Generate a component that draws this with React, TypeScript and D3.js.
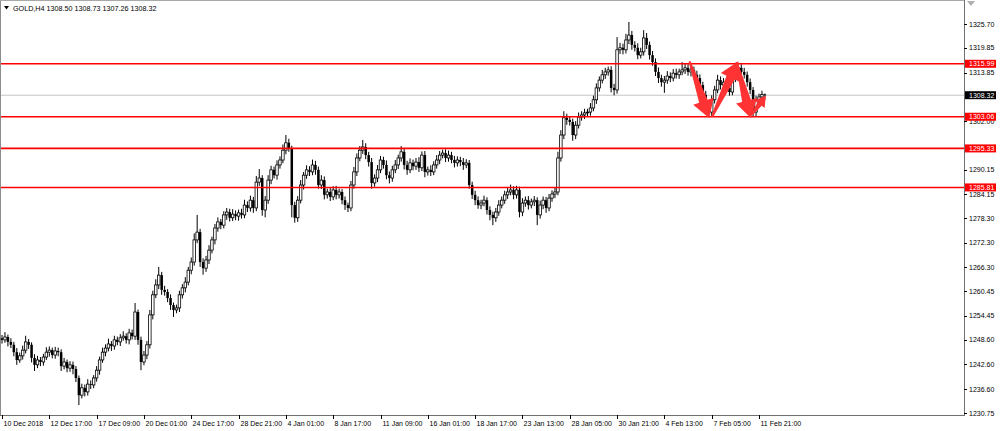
import React, { useEffect, useRef } from "react";
import * as d3 from "d3";

/* DATA (GOLD H4) */
const symbolTitle = "GOLD,H4";
const lastQuote = [1308.5, 1308.73, 1307.26, 1308.32]; // O H L C of the last bar

const firstOpen = 1249.0;
const closes = [
  1248.6, 1249.3, 1248.1, 1247.4, 1245.6, 1243.7, 1244.7, 1246.1, 1248.1, 1247.4,
  1244.2, 1242.5, 1243.7, 1243.2, 1244.4, 1245.6, 1246.1, 1244.9, 1245.9, 1245.6,
  1242.2, 1243.2, 1241.7, 1242.5, 1241.5, 1239.3, 1235.1, 1236.9, 1235.9, 1237.8,
  1237.6, 1239.3, 1241.2, 1243.7, 1245.6, 1246.6, 1247.6, 1247.1, 1248.6, 1248.1,
  1249.1, 1249.5, 1248.6, 1250.3, 1249.5, 1255.4, 1248.6, 1243.2, 1244.9, 1247.4,
  1254.7, 1259.6, 1262.0, 1264.4, 1260.8, 1260.3, 1258.8, 1257.1, 1255.9, 1256.4,
  1259.6, 1261.3, 1262.7, 1265.6, 1267.6, 1273.0, 1274.9, 1267.6, 1266.1, 1268.1,
  1270.5, 1273.0, 1275.9, 1277.4, 1276.6, 1279.1, 1279.8, 1278.4, 1279.3, 1278.8,
  1279.6, 1279.1, 1281.5, 1280.8, 1282.7, 1280.8, 1287.1, 1288.1, 1280.3, 1282.7,
  1287.6, 1290.1, 1288.8, 1291.3, 1292.5, 1294.9, 1296.7, 1295.4, 1281.5, 1278.4,
  1282.7, 1286.4, 1288.8, 1290.1, 1289.6, 1291.3, 1290.1, 1286.4, 1287.6, 1284.0,
  1284.7, 1283.5, 1285.2, 1284.0, 1284.7, 1282.7, 1281.5, 1280.8, 1286.4, 1289.6,
  1293.0, 1294.9, 1295.7, 1293.7, 1292.0, 1286.9, 1288.1, 1290.1, 1292.5, 1291.3,
  1288.8, 1288.1, 1290.1, 1291.3, 1293.0, 1294.5, 1291.3, 1290.1, 1291.8, 1291.0,
  1292.0, 1290.6, 1293.7, 1289.6, 1290.1, 1289.6, 1291.3, 1292.5, 1293.7, 1294.2,
  1293.0, 1293.7, 1292.5, 1291.8, 1292.5, 1292.0, 1291.3, 1291.8, 1286.4, 1284.0,
  1282.7, 1281.5, 1282.0, 1282.7, 1280.3, 1279.1, 1278.4, 1279.8, 1281.5, 1282.7,
  1284.0, 1284.7, 1285.2, 1284.0, 1285.2, 1279.8, 1282.0, 1282.7, 1281.5, 1282.3,
  1282.7, 1279.1, 1281.5, 1282.7, 1280.8, 1283.2, 1284.2, 1284.7, 1293.0, 1298.6,
  1302.8, 1302.3, 1301.8, 1298.6, 1301.0, 1303.0, 1303.5, 1304.0, 1304.2, 1305.2,
  1307.2, 1310.1, 1312.0, 1313.3, 1314.0, 1314.5, 1310.1, 1309.6, 1319.4, 1319.9,
  1319.4, 1321.8, 1323.0, 1320.6, 1319.9, 1318.1, 1318.9, 1322.3, 1320.6, 1318.1,
  1316.4, 1314.0, 1312.5, 1311.5, 1312.0, 1313.0, 1312.5, 1313.7, 1313.3, 1314.0,
  1314.5, 1315.0, 1314.0, 1314.5, 1313.3, 1312.5, 1310.8, 1308.4, 1305.9, 1304.2,
  1307.2, 1309.6, 1312.0, 1310.8, 1311.5, 1310.1, 1309.1, 1312.5, 1314.5, 1315.0,
  1314.0, 1313.3, 1311.5, 1309.6, 1304.2, 1307.2, 1307.9, 1308.5, 1308.32,
];
// wick lengths above / below the body, in dollars
const upperWick = [
  0.8, 1.2, 0.6, 0.9, 0.7, 1.0, 0.8, 1.1, 1.5, 0.7,
  0.6, 0.9, 1.0, 0.7, 0.8, 1.2, 0.9, 0.6, 1.0, 0.8,
  0.7, 1.0, 0.6, 0.9, 0.8, 0.7, 0.6, 1.0, 0.8, 1.2,
  0.9, 0.7, 1.0, 0.8, 1.1, 0.9, 1.3, 0.7, 1.0, 0.8,
  0.9, 1.2, 0.7, 1.0, 0.8, 2.2, 0.6, 0.8, 1.0, 0.9,
  1.2, 1.0, 1.4, 2.0, 0.8, 1.0, 0.7, 0.9, 0.6, 0.8,
  1.0, 0.9, 1.2, 0.8, 1.1, 1.6, 4.2, 0.8, 0.9, 1.0,
  1.2, 0.8, 1.0, 1.1, 0.7, 0.9, 1.0, 0.8, 1.2, 0.9,
  0.8, 1.0, 1.3, 0.9, 1.1, 0.8, 1.5, 2.2, 0.7, 1.0,
  1.2, 1.0, 0.8, 1.1, 0.9, 1.4, 1.9, 1.0, 0.6, 0.8,
  1.0, 1.2, 0.8, 1.1, 0.9, 1.3, 1.0, 0.8, 1.2, 0.9,
  0.8, 1.1, 0.9, 1.0, 0.8, 0.7, 0.9, 0.6, 1.0, 1.2,
  1.1, 1.0, 1.7, 0.9, 0.8, 1.0, 0.9, 1.2, 1.0, 0.8,
  1.1, 0.9, 1.0, 1.2, 0.8, 1.4, 0.9, 1.0, 1.1, 0.8,
  1.0, 1.2, 0.9, 1.0, 0.8, 1.1, 0.9, 1.2, 1.0, 0.8,
  0.9, 1.1, 0.8, 1.0, 0.9, 0.8, 1.0, 0.9, 0.7, 0.8,
  1.0, 0.9, 0.8, 1.1, 0.7, 0.9, 0.8, 1.0, 1.2, 0.9,
  1.0, 1.1, 1.3, 0.9, 1.0, 0.8, 1.2, 0.9, 1.0, 0.8,
  1.0, 0.7, 1.1, 0.9, 0.8, 1.0, 0.9, 1.1, 1.5, 1.2,
  1.6, 1.0, 0.9, 0.8, 1.0, 1.1, 0.9, 1.0, 0.8, 1.2,
  1.0, 1.1, 0.9, 1.2, 1.0, 0.8, 0.9, 1.0, 3.1, 1.2,
  1.0, 1.5, 3.2, 1.0, 0.9, 1.1, 1.0, 1.9, 1.2, 0.8,
  1.0, 0.9, 1.1, 0.8, 1.0, 1.2, 0.9, 1.0, 1.1, 0.8,
  1.9, 1.0, 0.9, 1.2, 0.8, 1.0, 0.9, 0.8, 1.0, 0.7,
  1.1, 1.0, 1.3, 0.9, 1.0, 0.8, 1.1, 1.2, 1.7, 1.0,
  0.9, 1.0, 0.8, 0.9, 0.7, 1.0, 0.8, 0.9, 0.23,
];
const lowerWick = [
  0.9, 0.7, 1.1, 0.8, 1.0, 1.2, 0.7, 0.9, 0.8, 1.0,
  1.1, 1.5, 0.8, 1.0, 0.9, 0.7, 1.1, 0.8, 0.9, 1.0,
  1.2, 0.8, 1.0, 0.9, 1.3, 1.0, 2.4, 0.8, 1.1, 0.9,
  1.0, 0.8, 0.9, 1.1, 0.7, 1.0, 0.8, 1.2, 0.9, 0.8,
  1.0, 0.7, 0.9, 1.1, 0.8, 0.9, 1.2, 2.0, 0.8, 1.0,
  0.9, 1.1, 0.8, 1.0, 1.2, 0.9, 1.0, 1.2, 1.7, 0.8,
  1.0, 0.9, 1.1, 0.8, 1.0, 0.9, 0.8, 1.2, 1.6, 0.9,
  1.0, 0.8, 1.1, 0.9, 1.0, 0.8, 1.2, 0.9, 0.8, 1.0,
  1.1, 0.9, 0.8, 1.0, 0.9, 1.2, 0.8, 0.9, 1.4, 1.8,
  0.9, 1.0, 0.8, 1.1, 0.9, 0.8, 1.0, 0.9, 3.0, 1.2,
  1.0, 0.8, 1.1, 0.9, 1.0, 0.8, 1.2, 0.9, 1.0, 1.1,
  0.9, 1.0, 0.8, 1.1, 0.9, 1.0, 1.2, 1.0, 0.8, 0.9,
  1.0, 0.8, 0.9, 1.0, 1.1, 1.4, 0.9, 1.0, 0.8, 0.9,
  1.0, 1.3, 0.9, 0.8, 1.0, 0.9, 1.1, 1.2, 0.8, 1.0,
  0.9, 1.0, 0.8, 1.3, 0.9, 1.0, 0.8, 0.9, 1.0, 0.8,
  1.0, 0.9, 0.8, 1.1, 0.9, 1.0, 1.2, 0.8, 0.9, 1.0,
  1.2, 0.9, 1.0, 0.8, 1.1, 1.3, 1.8, 1.0, 0.9, 0.8,
  0.9, 1.0, 0.8, 1.1, 0.9, 1.3, 1.0, 0.9, 1.1, 0.8,
  1.0, 2.5, 0.9, 1.0, 1.2, 0.8, 0.9, 1.0, 0.8, 0.9,
  1.0, 1.2, 0.9, 1.4, 1.0, 0.8, 0.9, 1.0, 0.8, 0.9,
  0.8, 1.0, 0.9, 0.8, 1.0, 0.9, 1.1, 1.3, 0.9, 1.0,
  1.1, 0.9, 1.0, 1.2, 0.9, 1.0, 0.8, 0.9, 1.0, 1.1,
  0.9, 1.0, 1.2, 1.1, 2.6, 0.9, 1.0, 0.8, 0.9, 1.0,
  0.8, 1.0, 0.9, 1.1, 1.0, 0.9, 1.2, 1.0, 1.1, 1.2,
  1.0, 0.9, 0.8, 1.1, 1.0, 1.2, 0.9, 0.8, 1.0, 0.9,
  1.0, 0.9, 1.1, 1.0, 1.2, 1.0, 0.9, 0.8, 1.06,
];

// visible price-scale labels (the ones under the level tags are left out)
const priceTicks = [
  1325.7, 1319.85, 1313.85, 1302.0, 1290.15, 1284.15, 1278.3,
  1272.3, 1266.3, 1260.45, 1254.45, 1248.6, 1242.6, 1236.6, 1230.75,
];
const timeTickBars = [0, 16, 32, 48, 64, 80, 96, 112, 128, 144, 160, 176, 192, 208, 224, 240, 256];
const timeLabels = [
  "10 Dec 2018", "12 Dec 17:00", "17 Dec 09:00", "20 Dec 01:00", "24 Dec 17:00",
  "28 Dec 21:00", "4 Jan 01:00", "8 Jan 17:00", "11 Jan 09:00", "16 Jan 01:00",
  "18 Jan 17:00", "23 Jan 13:00", "28 Jan 05:00", "30 Jan 21:00", "4 Feb 13:00",
  "7 Feb 05:00", "11 Feb 21:00",
];

const levels = [1315.99, 1303.06, 1295.33, 1285.81];
const bidPrice = 1308.32;

// hand-drawn arrows: [bar, price] start -> tip
const arrowStarts = [[232.5, 1316.6], [240.1, 1303.0], [248.4, 1316.4], [253.6, 1303.6]];
const arrowTips = [[239.2, 1302.7], [249.0, 1316.6], [253.3, 1302.7], [258.3, 1308.2]];

const W = 1000;
const H = 431;
const FONT = "'Liberation Sans', Arial, sans-serif";

function GoldChart() {
  const ref = useRef<SVGSVGElement>(null);

  useEffect(() => {
    const svg = d3.select(ref.current);
    svg.selectAll("*").remove();

    const plotRight = 964;
    const plotBottom = 415;

    const x = d3.scaleLinear().domain([0, 256]).range([2, 759]);
    const y = d3.scaleLinear().domain([1230.75, 1325.7]).range([413, 24]);

    const bars = closes.map((c, i) => {
      const o = i === 0 ? firstOpen : closes[i - 1];
      return {
        i,
        o,
        c,
        h: Math.max(o, c) + upperWick[i],
        l: Math.min(o, c) - lowerWick[i],
      };
    });

    svg.append("rect").attr("width", W).attr("height", H).attr("fill", "#fff");

    // frame
    svg.append("line").attr("x1", 0.5).attr("x2", 0.5).attr("y1", 0).attr("y2", plotBottom)
      .attr("stroke", "#8c8c8c");
    svg.append("line").attr("x1", 0).attr("x2", plotRight).attr("y1", 0.5).attr("y2", 0.5)
      .attr("stroke", "#a8a8a8");
    svg.append("line").attr("x1", plotRight + 0.5).attr("x2", plotRight + 0.5).attr("y1", 0).attr("y2", plotBottom + 1)
      .attr("stroke", "#707070");
    svg.append("line").attr("x1", 0).attr("x2", plotRight + 1).attr("y1", plotBottom + 0.5).attr("y2", plotBottom + 0.5)
      .attr("stroke", "#707070");
    svg.append("path").attr("d", `M${plotRight + 3},1 L${plotRight + 11},1 L${plotRight + 7},6 Z`)
      .attr("fill", "#b0b0b0");

    // header
    svg.append("path").attr("d", "M4,6 L9,6 L6.5,9.5 Z").attr("fill", "#000");
    svg.append("text").attr("x", 13).attr("y", 10.5)
      .attr("font-family", FONT).attr("font-size", 7.2).attr("fill", "#000")
      .text(`${symbolTitle}  ${lastQuote.map((v) => v.toFixed(2)).join(" ")}`);

    // bid line
    svg.append("line").attr("x1", 1).attr("x2", plotRight).attr("y1", y(bidPrice)).attr("y2", y(bidPrice))
      .attr("stroke", "#c4c4c4").attr("stroke-width", 1);

    // candles
    const g = svg.append("g");
    g.selectAll("line.wick").data(bars).enter().append("line")
      .attr("x1", (d) => x(d.i)).attr("x2", (d) => x(d.i))
      .attr("y1", (d) => y(d.h)).attr("y2", (d) => y(d.l))
      .attr("stroke", "#000").attr("stroke-width", 1);
    g.selectAll("rect.body").data(bars).enter().append("rect")
      .attr("x", (d) => x(d.i) - 1.25).attr("width", 2.5)
      .attr("y", (d) => y(Math.max(d.o, d.c)))
      .attr("height", (d) => Math.max(0.8, Math.abs(y(d.o) - y(d.c))))
      .attr("fill", (d) => (d.c >= d.o ? "#fff" : "#000"))
      .attr("stroke", "#000").attr("stroke-width", (d) => (d.c >= d.o ? 0.8 : 0));

    // support / resistance levels
    svg.selectAll("line.level").data(levels).enter().append("line")
      .attr("x1", 1).attr("x2", plotRight)
      .attr("y1", (d) => y(d)).attr("y2", (d) => y(d))
      .attr("stroke", "#ff0000").attr("stroke-width", 1.6);

    // arrows
    const arrowPath = (s: number[], t: number[]) => {
      const x0 = x(s[0]), y0 = y(s[1]), x1 = x(t[0]), y1 = y(t[1]);
      const dx = x1 - x0, dy = y1 - y0;
      const len = Math.hypot(dx, dy);
      const ux = dx / len, uy = dy / len;
      const nx = -uy, ny = ux;
      const head = Math.min(18, len * 0.45);
      const hw = head * 0.6;
      const sw = head * 0.25;
      const bx = x1 - ux * head, by = y1 - uy * head;
      const pts = [
        [x0 + nx * 1, y0 + ny * 1],
        [bx + nx * sw, by + ny * sw],
        [bx + nx * hw, by + ny * hw],
        [x1, y1],
        [bx - nx * hw, by - ny * hw],
        [bx - nx * sw, by - ny * sw],
        [x0 - nx * 1, y0 - ny * 1],
      ];
      return "M" + pts.map((p) => p.join(",")).join("L") + "Z";
    };
    svg.selectAll("path.arrow").data(arrowStarts).enter().append("path")
      .attr("d", (d, i) => arrowPath(d, arrowTips[i]))
      .attr("fill", "#ff3333");

    // price axis
    const ax = svg.append("g").attr("font-family", FONT).attr("font-size", 7);
    priceTicks.forEach((p) => {
      ax.append("line").attr("x1", plotRight).attr("x2", plotRight + 3)
        .attr("y1", Math.round(y(p)) + 0.5).attr("y2", Math.round(y(p)) + 0.5).attr("stroke", "#000");
      ax.append("text").attr("x", 969).attr("y", y(p) + 2.5).attr("fill", "#000")
        .text(p.toFixed(2));
    });

    const tag = (p: number, color: string) => {
      ax.append("rect").attr("x", plotRight + 1).attr("y", y(p) - 4).attr("width", 31).attr("height", 8)
        .attr("fill", color);
      ax.append("text").attr("x", 969).attr("y", y(p) + 2.5).attr("fill", "#fff").text(p.toFixed(2));
    };
    levels.forEach((p) => tag(p, "#ff0000"));
    tag(bidPrice, "#000");

    // time axis
    timeTickBars.forEach((b, k) => {
      const px = Math.round(x(b)) + 0.5;
      ax.append("line").attr("x1", px).attr("x2", px).attr("y1", plotBottom).attr("y2", plotBottom + 4)
        .attr("stroke", "#000");
      ax.append("text").attr("x", px + 1).attr("y", 426).attr("fill", "#000").text(timeLabels[k]);
    });
  }, []);

  return (
    <svg
      ref={ref}
      width={W}
      height={H}
      style={{ position: "absolute", left: 0, top: 0, display: "block" }}
    />
  );
}

export default function App() {
  return <GoldChart />;
}
